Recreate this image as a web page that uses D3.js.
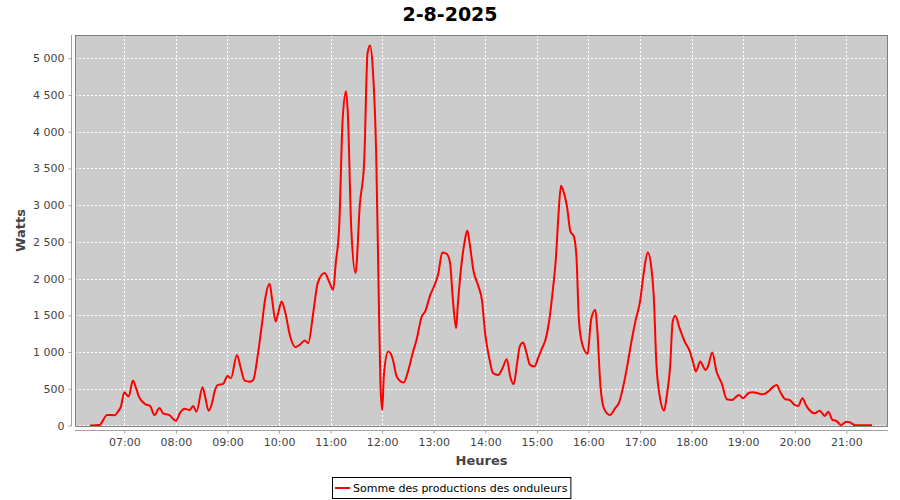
<!DOCTYPE html>
<html>
<head>
<meta charset="utf-8">
<script src="https://cdn.jsdelivr.net/npm/d3@7"></script>
<style>
  html, body { margin: 0; padding: 0; background: #ffffff; }
  svg { display: block; font-family: "DejaVu Sans", sans-serif; }
</style>
</head>
<body>
<svg id="chart" width="900" height="500"></svg>
<script>
// ---- Data ----
const chartTitle = "2-8-2025";
const seriesName = "Somme des productions des onduleurs";
const xAxisTitle = "Heures";
const yAxisTitle = "Watts";

const times = [
  "06:20","06:31","06:40","06:49","06:52","06:56","07:00","07:05","07:10","07:14",
  "07:17","07:24","07:30","07:35","07:41","07:45","07:52","08:00","08:05","08:10",
  "08:16","08:20","08:24","08:31","08:34","08:38","08:42","08:45","08:49","08:55",
  "09:00","09:04","09:11","09:15","09:20","09:26","09:30","09:35","09:40","09:44",
  "09:49","09:52","09:56","09:59","10:03","10:07","10:13","10:19","10:24","10:30",
  "10:34","10:40","10:45","10:53","10:59","11:03","11:06","11:10","11:14","11:18",
  "11:20","11:24","11:29","11:34","11:39","11:43","11:46","11:49","11:53","11:56",
  "11:58","12:00","12:02","12:07","12:12","12:17","12:25","12:30","12:36","12:40",
  "12:46","12:50","12:56","13:01","13:05","13:10","13:15","13:19","13:22","13:26",
  "13:28","13:32","13:36","13:39","13:42","13:46","13:52","13:56","14:00","14:05",
  "14:09","14:15","14:20","14:25","14:29","14:33","14:37","14:40","14:44","14:48",
  "14:52","14:57","15:02","15:06","15:10","15:15","15:19","15:22","15:25","15:28",
  "15:31","15:35","15:39","15:43","15:46","15:49","15:53","15:59","16:03","16:08",
  "16:10","16:14","16:18","16:25","16:31","16:36","16:40","16:45","16:50","16:55",
  "17:00","17:04","17:09","17:13","17:16","17:19","17:23","17:28","17:31","17:35",
  "17:38","17:41","17:46","17:52","17:58","18:02","18:05","18:10","18:16","18:19",
  "18:24","18:29","18:35","18:41","18:47","18:50","18:55","19:00","19:06","19:11",
  "19:17","19:23","19:29","19:35","19:39","19:43","19:49","19:54","20:00","20:04",
  "20:09","20:13","20:17","20:23","20:29","20:32","20:35","20:39","20:44","20:48",
  "20:54","21:00","21:05","21:10","21:30"
];
const watts = [
  0,5,143,140,180,256,453,393,611,494,
  393,293,266,143,239,166,143,65,175,229,
  211,266,188,521,393,202,303,461,552,566,
  675,643,961,802,611,597,620,938,1370,1734,
  1929,1711,1415,1530,1688,1552,1211,1066,1098,1156,
  1121,1552,1939,2075,1939,1848,2212,2711,4166,4552,
  4257,2689,2075,3007,3575,5075,5175,4870,3711,1756,
  552,211,689,1006,916,665,584,734,1006,1166,
  1484,1552,1779,1916,2052,2357,2338,2212,1756,1325,
  1643,2166,2506,2656,2461,2120,1893,1711,1234,893,
  712,689,780,903,665,562,848,1075,1129,984,
  825,802,938,1052,1166,1484,1893,2257,2848,3266,
  3188,2984,2643,2575,2302,1415,1098,975,1439,1575,
  1347,529,234,143,234,325,507,802,1143,1439,
  1688,2052,2357,2166,1756,848,393,202,393,802,
  1415,1493,1325,1143,1006,848,734,870,757,802,
  993,734,575,357,348,371,416,371,439,453,
  439,425,461,529,552,461,357,348,280,266,
  371,280,211,166,202,166,130,188,75,65,
  7,52,38,3,3
];
const yTicks = [0,500,1000,1500,2000,2500,3000,3500,4000,4500,5000];
const xTickLabels = ["07:00","08:00","09:00","10:00","11:00","12:00","13:00","14:00","15:00","16:00","17:00","18:00","19:00","20:00","21:00"];
const xDomain = ["06:02:36","21:48:30"];
const yDomain = [-7, 5317];

// ---- Helpers ----
function toDate(s) {
  const p = s.split(":").map(Number);
  return new Date(2025, 7, 2, p[0], p[1], p[2] || 0);
}
const data = times.map((t, i) => ({ t: toDate(t), v: watts[i] }));

const plot = { left: 75, right: 888, top: 35, bottom: 426 };
const svg = d3.select("#chart");

const x = d3.scaleTime().domain(xDomain.map(toDate)).range([plot.left, plot.right]);
const y = d3.scaleLinear().domain(yDomain).range([plot.bottom, plot.top]);

const frLocale = d3.formatLocale({ decimal: ",", thousands: " ", grouping: [3], currency: ["", " €"] });
const fmt = frLocale.format(",d");

// Plot background
svg.append("rect")
  .attr("x", plot.left).attr("y", plot.top)
  .attr("width", plot.right - plot.left).attr("height", plot.bottom - plot.top)
  .attr("fill", "#cccccc");

// Gridlines
const xTickDates = xTickLabels.map(toDate);
svg.append("g").selectAll("line").data(xTickDates).join("line")
  .attr("x1", d => Math.round(x(d)) + 0.5).attr("x2", d => Math.round(x(d)) + 0.5)
  .attr("y1", plot.top).attr("y2", plot.bottom)
  .attr("stroke", "#ffffff").attr("stroke-width", 1).attr("stroke-dasharray", "2,2");
svg.append("g").selectAll("line").data(yTicks).join("line")
  .attr("x1", plot.left).attr("x2", plot.right)
  .attr("y1", d => Math.round(y(d)) + 0.5).attr("y2", d => Math.round(y(d)) + 0.5)
  .attr("stroke", "#ffffff").attr("stroke-width", 1).attr("stroke-dasharray", "2,2");

// Clip for series
svg.append("clipPath").attr("id", "clip").append("rect")
  .attr("x", plot.left).attr("y", plot.top)
  .attr("width", plot.right - plot.left).attr("height", plot.bottom - plot.top);

// Series line
const line = d3.line().x(d => x(d.t)).y(d => y(d.v)).curve(d3.curveMonotoneX);
svg.append("path").datum(data)
  .attr("clip-path", "url(#clip)")
  .attr("d", line)
  .attr("fill", "none")
  .attr("stroke", "#ff0000")
  .attr("stroke-width", 2)
  .attr("stroke-linejoin", "round");

// Plot outline
svg.append("rect")
  .attr("x", plot.left + 0.5).attr("y", plot.top + 0.5)
  .attr("width", plot.right - plot.left - 1).attr("height", plot.bottom - plot.top)
  .attr("fill", "none").attr("stroke", "#808080").attr("stroke-width", 1);

// Y axis (offset 4px left of plot)
const yAxis = d3.axisLeft(y).tickValues(yTicks).tickFormat(fmt).tickSizeInner(3).tickSizeOuter(0).tickPadding(4);
const gy = svg.append("g").attr("transform", `translate(${plot.left - 3.5},0)`).call(yAxis);
gy.select(".domain").attr("stroke", "#a0a0a0").attr("d", `M0,${plot.top}V${plot.bottom}`);
gy.selectAll(".tick line").attr("stroke", "#a0a0a0");
gy.selectAll(".tick text").attr("fill", "#444444").style("font-size", "11px").style("font-family", "DejaVu Sans, sans-serif");

// X axis (offset 4px below plot)
const xAxis = d3.axisBottom(x).tickValues(xTickDates).tickFormat(d3.timeFormat("%H:%M")).tickSizeInner(3).tickSizeOuter(0).tickPadding(5);
const gx = svg.append("g").attr("transform", `translate(0,${plot.bottom + 4.5})`).call(xAxis);
gx.select(".domain").attr("stroke", "#a0a0a0").attr("d", `M${plot.left},0H${plot.right}`);
gx.selectAll(".tick line").attr("stroke", "#a0a0a0");
gx.selectAll(".tick text").attr("fill", "#444444").style("font-size", "11px").style("font-family", "DejaVu Sans, sans-serif");

// Title
svg.append("text")
  .attr("x", 450).attr("y", 21)
  .attr("text-anchor", "middle")
  .style("font-family", "DejaVu Sans, sans-serif")
  .style("font-weight", "bold").style("font-size", "19px")
  .attr("fill", "#000000")
  .text(chartTitle);

// Axis titles
svg.append("text")
  .attr("x", (plot.left + plot.right) / 2).attr("y", 465)
  .attr("text-anchor", "middle")
  .style("font-weight", "bold").style("font-size", "13px")
  .attr("fill", "#444444")
  .text(xAxisTitle);
svg.append("text")
  .attr("transform", `translate(25,${(plot.top + plot.bottom) / 2}) rotate(-90)`)
  .attr("text-anchor", "middle")
  .style("font-weight", "bold").style("font-size", "13px")
  .attr("fill", "#444444")
  .text(yAxisTitle);

// Legend
const lg = svg.append("g");
const legendText = lg.append("text")
  .attr("x", 353).attr("y", 492)
  .style("font-size", "11px")
  .attr("fill", "#000000")
  .text(seriesName);
const tw = legendText.node().getComputedTextLength();
lg.insert("rect", "text")
  .attr("x", 332.5).attr("y", 477.5)
  .attr("width", 353 + tw + 3 - 332).attr("height", 21)
  .attr("fill", "#ffffff").attr("stroke", "#000000").attr("stroke-width", 1);
lg.append("line")
  .attr("x1", 335).attr("x2", 350).attr("y1", 488).attr("y2", 488)
  .attr("stroke", "#ff0000").attr("stroke-width", 2);
</script>
</body>
</html>
